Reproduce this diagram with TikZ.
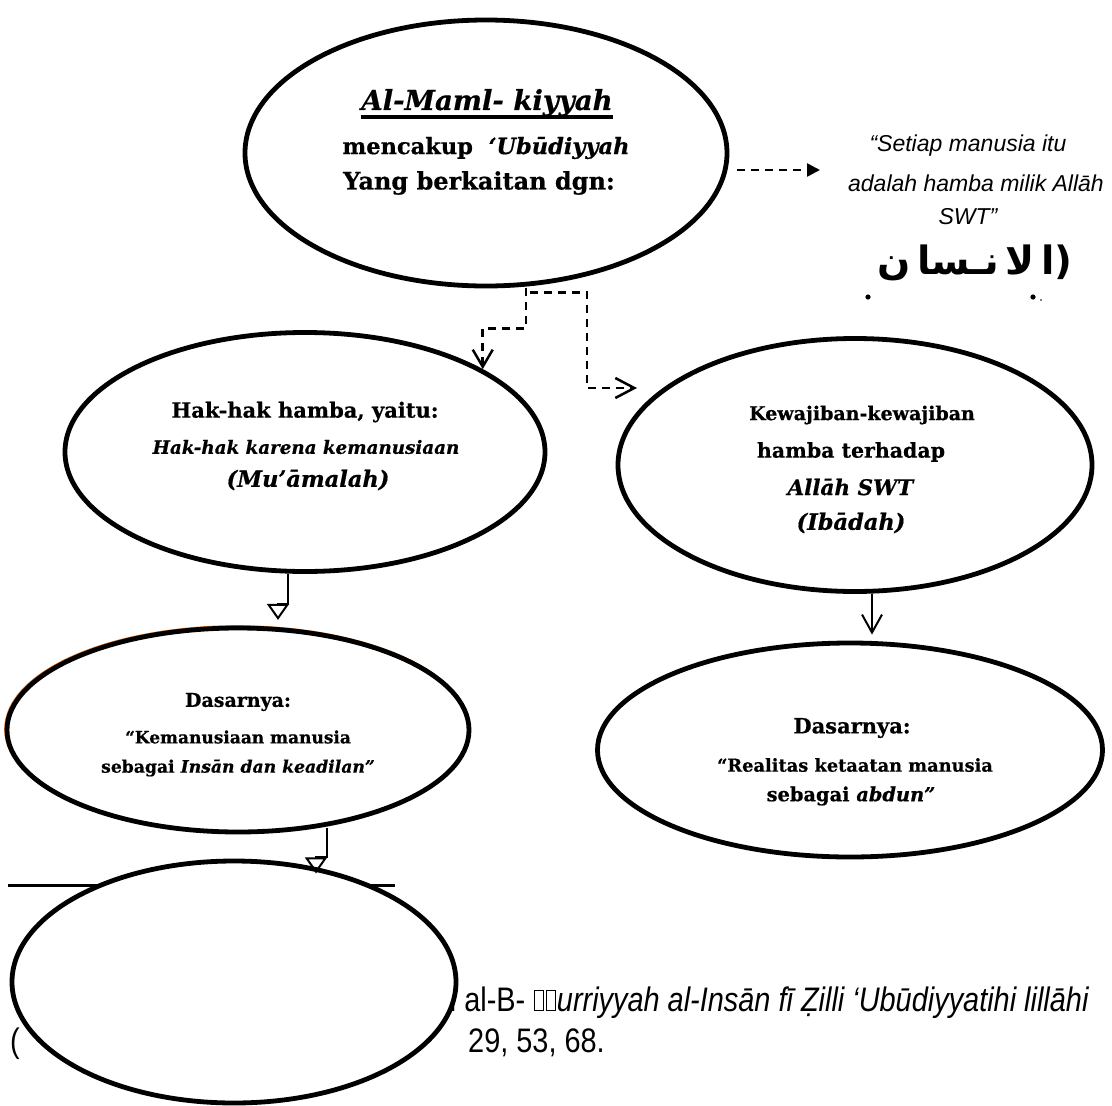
\documentclass[tikz,border=0pt]{standalone}
\usepackage{fontspec}
\setmainfont{DejaVu Serif}[BoldFeatures={FakeBold=0.6},BoldItalicFeatures={FakeBold=0.6}]
\newfontfamily\quotefont{Liberation Sans}
\newfontfamily\notefont{Liberation Sans}[FakeStretch=0.85]
\newfontfamily\arabicfont[Script=Arabic]{DejaVu Sans}
\TeXXeTstate=1
\usetikzlibrary{shapes.geometric,arrows.meta}
\definecolor{orangeedge}{RGB}{226,122,40}
\newcommand\thickul[1]{\setbox0\hbox{#1}\rlap{\vrule width\wd0 height -5pt depth 9pt}\box0}
\newcommand\tofubox{\kern1pt\vrule width .9pt height 21pt depth 0pt\vbox to 21pt{\hrule width 8pt height .9pt\vfil\hrule width 8pt height .9pt}\vrule width .9pt height 21pt depth 0pt\kern1pt}
\newcommand\argap{\kern6.5pt}
\begin{document}
\begin{tikzpicture}[x=1pt,y=-1pt,
  oval/.style={ellipse,draw,line width=4.8pt,fill=white,inner sep=0pt},
  bt/.style={font=\fontsize{#1}{#1}\selectfont\bfseries,inner sep=0pt},
  qt/.style={font=\fontsize{#1}{#1}\selectfont\quotefont\itshape,inner sep=0pt},
  nt/.style={font=\fontsize{#1}{#1}\selectfont\notefont,inner sep=0pt},
  dashconn/.style={line width=2.5pt,dash pattern=on 8pt off 6pt},
  solidconn/.style={line width=2pt},
  vtip/.style={-{Straight Barb[length=#1,width=20pt]}},
  otip/.style={-{Triangle[open,length=16pt,width=22pt]}},
  ftip/.style={-{Triangle[length=13pt,width=13pt]}}
]
\fill[white] (0,0) rectangle (1112,1106);
\useasboundingbox (0,0) rectangle (1112,1106);

% footnote text (partly hidden by the bottom oval)
\node[nt=34,anchor=base west] (fn1) at (440,1011) {n al-B- \tofubox\tofubox\textit{urriyyah al-Insān fī Ẓilli ‘Ubūdiyyatihi lillāhi}};
\node[nt=34,anchor=base west] (fn2) at (10,1052) {(};
\node[nt=34,anchor=base west] (fn3) at (468,1052) {29, 53, 68.};
\draw[line width=3pt] (8,885) -- (395,885);

% ovals
\node[oval,minimum width=482pt,minimum height=266pt] (top) at (486,153) {};
\node[oval,minimum width=480pt,minimum height=239pt] (L2) at (305,452) {};
\node[oval,minimum width=474pt,minimum height=253pt] (R2) at (855,465) {};
\draw[orangeedge,line width=4pt] (237.2,729.2) ellipse (231 and 102);
\node[oval,minimum width=462pt,minimum height=204pt] (L3) at (238,730) {};
\node[oval,minimum width=505pt,minimum height=214pt] (R3) at (850,750) {};
\node[oval,minimum width=444pt,minimum height=242pt] (B) at (234,982) {};

% texts of the top oval
\node[bt=27.5] (t1) at (487,104) {\thickul{\textit{Al-Maml- kiyyah}}};
\node[bt=22.5] (t2) at (486,148) {mencakup \ \textit{‘Ubūdiyyah}};
\node[bt=24] (t3) at (479,183) {Yang berkaitan dgn:};

% quote on the right
\node[qt=23] (q1) at (968,146) {“Setiap manusia itu};
\node[qt=23] (q2) at (976,183) {adalah hamba milik Allāh};
\node[qt=23] (q3) at (968,217) {SWT”};
\node[font=\fontsize{39}{39}\selectfont\arabicfont\bfseries,inner sep=0pt] (ar) at (975,263) {\beginR(ا\argap لا\argap نـسا\argap ن\endR};
\fill (868,297) circle (2.6);
\fill (1033,297) circle (2.6);
\fill (1041,300) circle (0.8);

% left middle oval
\node[bt=21] (l1) at (305,412) {Hak-hak hamba, yaitu:};
\node[bt=18.3] (l2) at (306,447) {\textit{Hak-hak karena kemanusiaan}};
\node[bt=22.5] (l3) at (308,480) {\textit{(Mu’āmalah)}};

% right middle oval
\node[bt=19] (r1) at (862,415) {Kewajiban-kewajiban};
\node[bt=20.5] (r2) at (851,452) {hamba terhadap};
\node[bt=21.5] (r3) at (851,487) {\textit{Allāh SWT}};
\node[bt=22.5] (r4) at (851,523) {\textit{(Ibādah)}};

% left lower oval
\node[bt=19] (d1) at (238,702) {Dasarnya:};
\node[bt=17] (d2) at (238,737) {“Kemanusiaan manusia};
\node[bt=17.2] (d3) at (238,768) {sebagai \textit{Insān dan keadilan”}};

% right lower oval
\node[bt=21] (e1) at (852,728) {Dasarnya:};
\node[bt=17.8] (e2t) at (855,765) {“Realitas ketaatan manusia};
\node[bt=19.4] (e3) at (851,796) {sebagai \textit{abdun”}};

% connectors
\coordinate (qa) at (820,170);
\coordinate (ea) at (637,388);
\draw[dashconn,ftip] ([xshift=8pt,yshift=-17pt]top.east) -- (qa);
\draw[dashconn,vtip=17pt] ([xshift=40pt]top.south) -- ++(0,40) -| (L2.25);
\draw[dashconn,vtip=19pt] ([xshift=44pt,yshift=-4pt]top.south) -- ++(57,0) |- (ea);
\draw[solidconn,otip] ([xshift=-17pt]L2.south) -- ++(0,30) -- ++(-10,0) -- ++(0,16);
\path ([xshift=17pt]R2.south) coordinate (r2out);
\draw[solidconn,vtip=18pt,shorten >=6pt] (r2out) -- (r2out |- R3.north);
\draw[solidconn,otip] ([xshift=89pt,yshift=6pt]L3.south) -- ++(0,29) -- ++(-11,0) -- ++(0,16);
\end{tikzpicture}
\end{document}
